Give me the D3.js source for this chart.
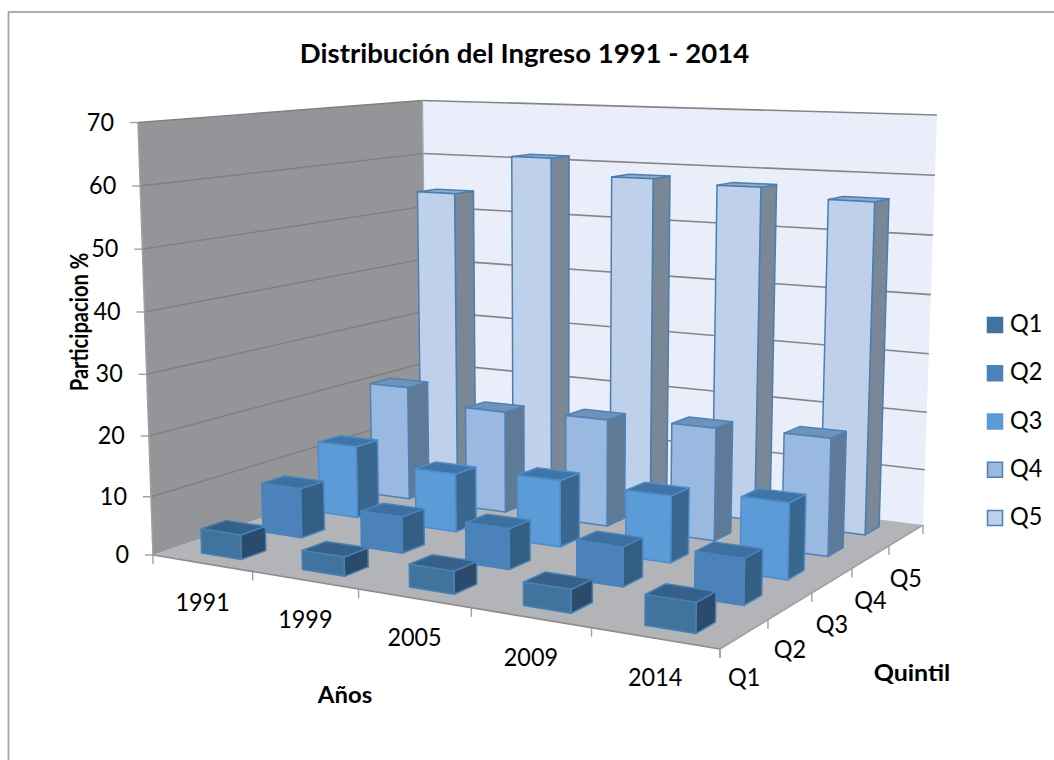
<!DOCTYPE html>
<html><head><meta charset="utf-8">
<script src="https://cdn.jsdelivr.net/npm/d3@7"></script>
<style>html,body{margin:0;padding:0;background:#fff;overflow:hidden}svg{display:block}text{font-family:Lato,sans-serif;fill:#000}</style>
</head><body><svg id="c" width="1054" height="760"></svg>
<script>
const titleText = "Distribución del Ingreso 1991 - 2014";
const years = ["1991","1999","2005","2009","2014"];
const quintiles = ["Q1","Q2","Q3","Q4","Q5"];
const q1Values = [4.3,3.3,3.8,3.8,4.8];
const q2Values = [8.7,6.3,6.9,6.6,7.5];
const q3Values = [12.9,10.3,11.5,11.3,12.6];
const q4Values = [20.7,18.2,18.8,19.4,19.8];
const q5Values = [53.9,61.1,58.3,57.7,56.2];
const seriesValues = [q1Values,q2Values,q3Values,q4Values,q5Values];
const yTicks = [0,10,20,30,40,50,60,70];
const frontColors = ["#41739f","#4a82b9","#5b9bd8","#9ab9e1","#bfd1ea"];
const sideColors  = ["#2b4b6c","#335f85","#3a678f","#5f7a97","#7a8797"];
const topColors   = ["#34608a","#3d6f9f","#3f74a8","#6f92ba","#93abc9"];
const edgeColors  = ["#4a80b1","#4a84bb","#4f8dc8","#4f81b5","#4a7fb2"];

// Camera calibration: floor plane corners and top plane corners, in px
const floorCorners=[[153,555],[720,649],[923,525],[427,462]];
const topCorners=[[138,122.5],[728,144.5],[937,115],[422.5,100.5]];

function homography([p00,p10,p11,p01]){
  const [x0,y0]=p00,[x1,y1]=p10,[x2,y2]=p11,[x3,y3]=p01;
  const dx1=x1-x2,dx2=x3-x2,sx=x0-x1+x2-x3,dy1=y1-y2,dy2=y3-y2,sy=y0-y1+y2-y3;
  const den=dx1*dy2-dx2*dy1;
  const g=(sx*dy2-dx2*sy)/den,h=(dx1*sy-sx*dy1)/den;
  const M=[x1-x0+g*x1,x3-x0+h*x3,x0,y1-y0+g*y1,y3-y0+h*y3,y0,g,h];
  return (u,v)=>{const w=M[6]*u+M[7]*v+1;return [(M[0]*u+M[1]*v+M[2])/w,(M[3]*u+M[4]*v+M[5])/w];};
}
const floorH=homography(floorCorners), topH=homography(topCorners);
function project(u,v,h){
  const a=floorH(u,v),b=topH(u,v);
  return [a[0]+(b[0]-a[0])*h,a[1]+(b[1]-a[1])*h];
}

const uScale=d3.scaleBand().domain(years).range([0,1]).paddingInner(0.6).paddingOuter(0.3);
const vScale=d3.scaleBand().domain(quintiles).range([0,1]).paddingInner(0.6).paddingOuter(0.3);
const uStep=d3.scaleBand().domain(years).range([0,1]);
const vStep=d3.scaleBand().domain(quintiles).range([0,1]);
// height scale: slight foreshortening of the vertical axis of the 3D view
const hScale=d3.scalePow().exponent(1.03).domain([0,70]).range([0,1]);
const poly=pts=>pts.map(p=>p.map(n=>n.toFixed(2)).join(",")).join(" ");

const svg=d3.select("#c");
svg.append("rect").attr("x",8.5).attr("y",12).attr("width",1100).attr("height",800)
   .attr("fill","#fff").attr("stroke","#a6a6a6").attr("stroke-width",1.8);

// text helper: horizontal stretch sx
function label(x,y,txt,size,sx,opts={}){
  return svg.append("text").attr("transform",`translate(${x},${y}) scale(${sx},1)`)
    .attr("text-anchor",opts.anchor||"middle").attr("dominant-baseline","middle")
    .attr("font-size",size).attr("font-weight",opts.weight||400).text(txt);
}

// walls and floor
svg.append("polygon").attr("points",poly([project(0,0,0),project(0,1,0),project(0,1,1),project(0,0,1)])).attr("fill","#949598");
svg.append("polygon").attr("points",poly([project(0,1,0),project(1,1,0),project(1,1,1),project(0,1,1)])).attr("fill","#e9eefa");
svg.append("polygon").attr("points",poly([project(0,0,0),project(1,0,0),project(1,1,0),project(0,1,0)])).attr("fill","#b3b4b8");

// gridlines
const seg=(a,b,col,w)=>svg.append("line").attr("x1",a[0]).attr("y1",a[1]).attr("x2",b[0]).attr("y2",b[1]).attr("stroke",col).attr("stroke-width",w);
yTicks.forEach(t=>{
  const h=hScale(t);
  if(t>0){ seg(project(0,0,h),project(0,1,h),"#7f7f7f",1.4); seg(project(0,1,h),project(1,1,h),"#858585",1.6); }
});
// axes
seg(project(0,0,0),project(0,0,1),"#a0a0a0",1.5);
seg(project(0,0,0),project(1,0,0),"#8c8c8c",1.6);
seg(project(1,0,0),project(1,1,0),"#a0a0a0",1.6);
seg(project(0,1,0),project(0,1,1),"#a8a9ab",1.2);
yTicks.forEach(t=>{
  const p=project(0,0,hScale(t));
  seg([p[0]-8,p[1]],p,"#a0a0a0",1.4);
  label(p[0]-24,p[1]+2,t,24.5,0.955,{anchor:"end"});
});
[...years.map(y=>uStep(y)),1].forEach(u=>{const p=project(u,0,0);seg(p,[p[0],p[1]+9],"#a0a0a0",1.4);});
[...quintiles.map(q=>vStep(q)),1].forEach(v=>{const p=project(1,v,0);seg(p,[p[0],p[1]+9],"#a0a0a0",1.4);});

// bars, back to front
d3.range(quintiles.length-1,-1,-1).forEach(qi=>{
  const q=quintiles[qi];
  years.forEach((y,yi)=>{
    const u0=uScale(y),u1=u0+uScale.bandwidth(),v0=vScale(q),v1=v0+vScale.bandwidth(),h=hScale(seriesValues[qi][yi]);
    const faces=[
      {pts:[project(u1,v0,0),project(u1,v1,0),project(u1,v1,h),project(u1,v0,h)],fill:sideColors[qi]},
      {pts:[project(u0,v0,h),project(u1,v0,h),project(u1,v1,h),project(u0,v1,h)],fill:topColors[qi]},
      {pts:[project(u0,v0,0),project(u1,v0,0),project(u1,v0,h),project(u0,v0,h)],fill:frontColors[qi]}
    ];
    svg.append("g").selectAll("polygon").data(faces).join("polygon")
      .attr("points",d=>poly(d.pts)).attr("fill",d=>d.fill)
      .attr("stroke",edgeColors[qi]).attr("stroke-width",1.5).attr("stroke-linejoin","round");
  });
});

// category labels
years.forEach(y=>{
  const p=project(uStep(y)+uStep.bandwidth()/2,0,0);
  label(p[0]+0.5,p[1]+42,y,24.5,0.955);
});
quintiles.forEach(q=>{
  const p=project(1,vStep(q)+vStep.bandwidth()/2,0);
  label(p[0]-0.5,p[1]+46,q,24.5,0.955);
});

// titles
label(524.5,56,titleText,27,1.02,{weight:700});
label(345,697,"Años",22,1.087,{weight:700});
label(912,675,"Quintil",22,1.136,{weight:700});
svg.append("text").attr("transform","translate(82,322) rotate(-90) scale(0.84,1)").attr("text-anchor","middle").attr("dominant-baseline","middle").attr("font-size",24).attr("font-weight",700).text("Participacion %");

// legend
const legendY=d3.scalePoint().domain(quintiles).range([325,518]);
const lg=svg.append("g").selectAll("g").data(quintiles).join("g").attr("transform",d=>`translate(0,${legendY(d)})`);
lg.append("rect").attr("x",987.5).attr("y",-7.5).attr("width",15).attr("height",15)
  .attr("fill",(d,i)=>frontColors[i]).attr("stroke",(d,i)=>i<3?frontColors[i]:edgeColors[i]).attr("stroke-width",1.5);
lg.append("text").attr("transform","translate(1010,1) scale(0.955,1)").attr("dominant-baseline","middle").attr("font-size",24.5).text(d=>d);
</script></body></html>
